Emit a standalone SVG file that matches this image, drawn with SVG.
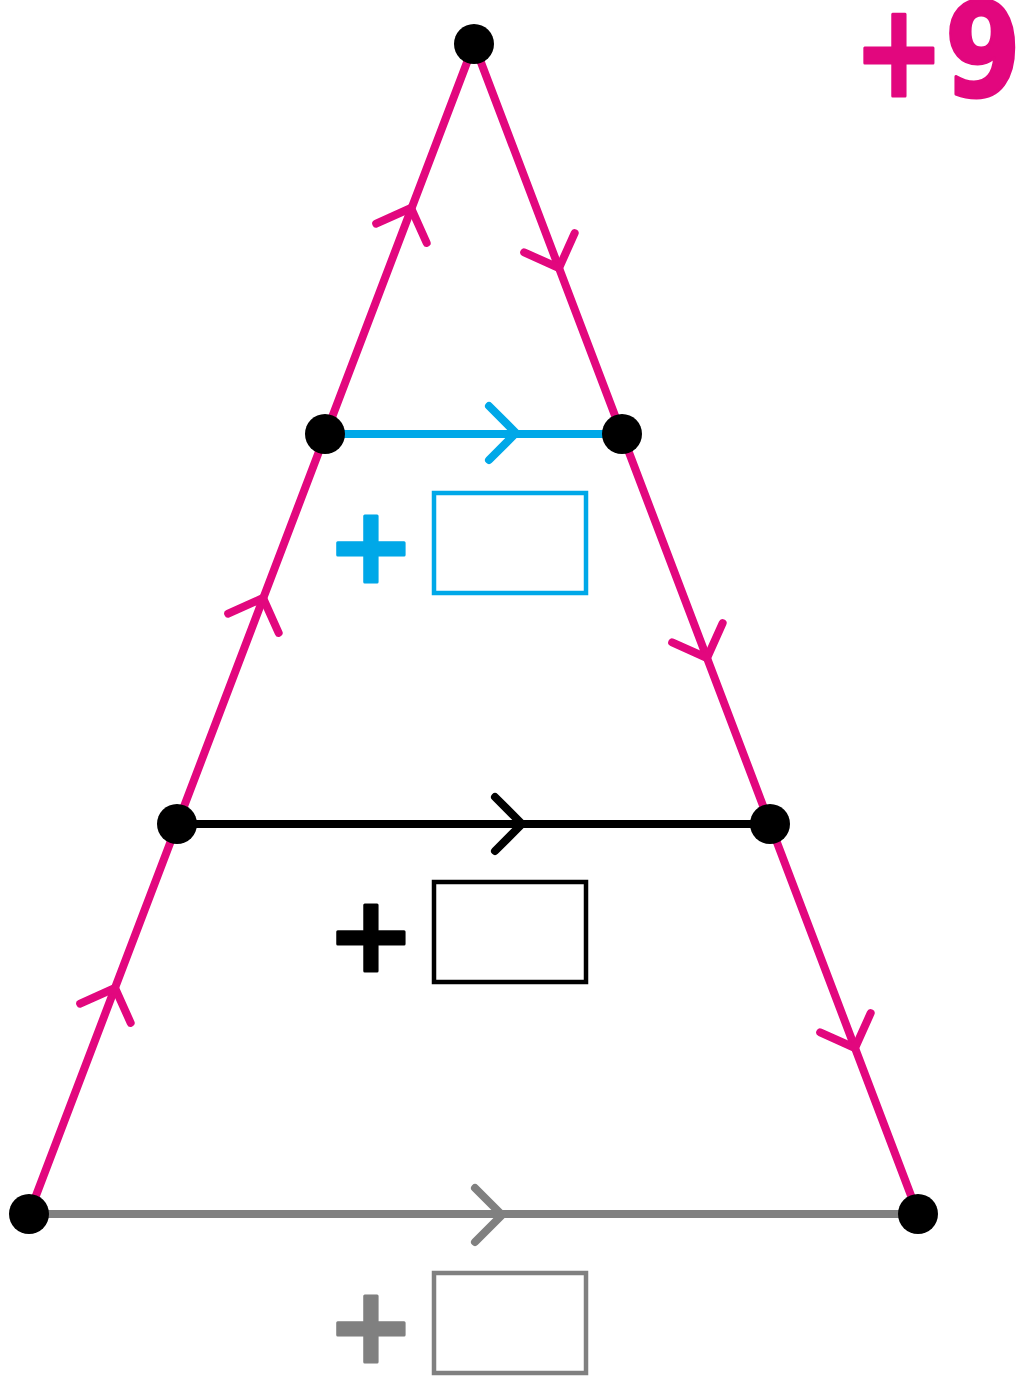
<svg xmlns="http://www.w3.org/2000/svg" width="1026" height="1377" viewBox="0 0 1026 1377">
<style>
.pk{stroke:#E2077E;}
.cy{stroke:#00A8E8;}
.bk{stroke:#000;}
.gy{stroke:#808080;}
.edge{fill:none;stroke-width:8;stroke-linecap:round;}
.chev{fill:none;stroke-width:8;stroke-linecap:round;stroke-linejoin:round;}
.dot{fill:#000;}
.box{fill:#fff;stroke-width:4.5;}
.plus{font-family:"DejaVu Sans",sans-serif;font-weight:bold;font-size:106px;text-anchor:middle;stroke-width:3;stroke-linejoin:round;}
</style>
<defs>
<path id="chev" d="M -27,-27 L 0,0 L -27,27"/>
</defs>
<g id="connectors">
<line class="edge pk" x1="474" y1="44" x2="29" y2="1214"/>
<line class="edge pk" x1="474" y1="44" x2="918" y2="1214"/>
<line class="edge cy" x1="325" y1="434" x2="622" y2="434"/>
<line class="edge bk" x1="177" y1="824" x2="770" y2="824"/>
<line class="edge gy" x1="29" y1="1214" x2="918" y2="1214" stroke-width="7"/>
<use href="#chev" class="chev pk" transform="translate(411,208) rotate(-69.2)"/>
<use href="#chev" class="chev pk" transform="translate(263,598) rotate(-69.2)"/>
<use href="#chev" class="chev pk" transform="translate(115,988) rotate(-69.2)"/>
<use href="#chev" class="chev pk" transform="translate(559,268) rotate(69.2)"/>
<use href="#chev" class="chev pk" transform="translate(707,658) rotate(69.2)"/>
<use href="#chev" class="chev pk" transform="translate(855,1048) rotate(69.2)"/>
<use href="#chev" class="chev cy" transform="translate(516,433)"/>
<use href="#chev" class="chev bk" transform="translate(522,824)"/>
<use href="#chev" class="chev gy" transform="translate(502,1215)"/>
</g>
<g id="node-top"><circle class="dot" cx="474" cy="44" r="20"/></g>
<g id="node-l1"><circle class="dot" cx="325" cy="434" r="20"/></g>
<g id="node-r1"><circle class="dot" cx="622" cy="434" r="20"/></g>
<g id="node-l2"><circle class="dot" cx="177" cy="824" r="20"/></g>
<g id="node-r2"><circle class="dot" cx="770" cy="824" r="20"/></g>
<g id="node-l3"><circle class="dot" cx="29" cy="1214" r="20"/></g>
<g id="node-r3"><circle class="dot" cx="918" cy="1214" r="20"/></g>
<g id="label-cyan">
<text class="plus" x="371" y="582" fill="#00A8E8" stroke="#00A8E8">+</text>
<rect class="box cy" x="434" y="493" width="152" height="100"/>
</g>
<g id="label-black">
<text class="plus" x="371" y="971" fill="#000" stroke="#000">+</text>
<rect class="box bk" x="434" y="882" width="152" height="100"/>
</g>
<g id="label-gray">
<text class="plus" x="371" y="1362" fill="#808080" stroke="#808080">+</text>
<rect class="box gy" x="434" y="1273" width="152" height="100"/>
</g>
<g id="label-total">
<text x="853" y="96" textLength="168" lengthAdjust="spacingAndGlyphs" font-family="DejaVu Sans, sans-serif" font-weight="bold" font-size="130" fill="#E2077E" stroke="#E2077E" stroke-width="3" stroke-linejoin="round">+9</text>
</g>
</svg>
